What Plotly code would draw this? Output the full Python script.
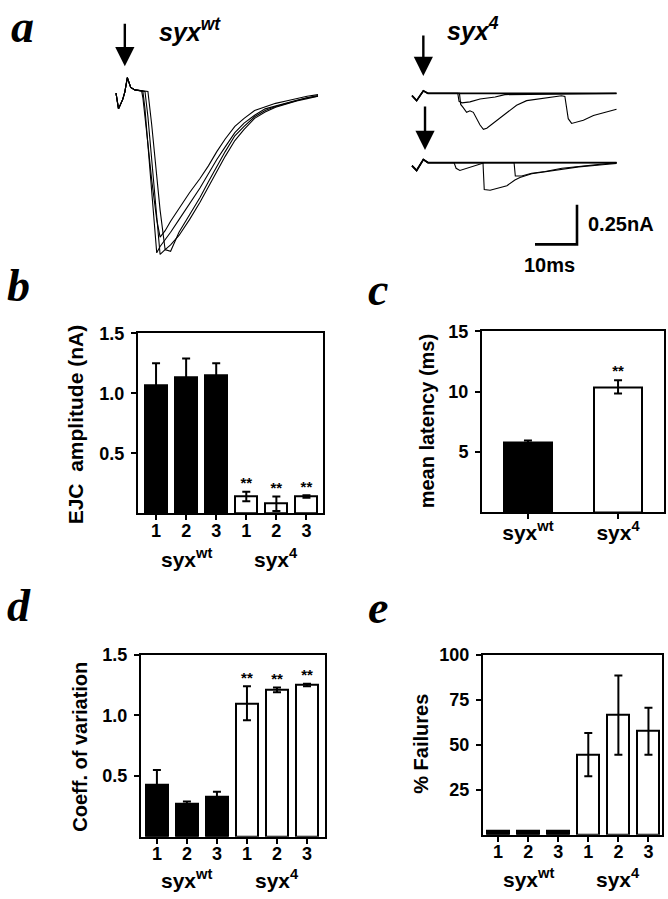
import plotly.graph_objects as go

W, H = 668, 899
SANS = "Liberation Sans, Arial, sans-serif"
SERIF = "Liberation Serif, Times New Roman, serif"

# ---------------- data ----------------
# panel a, syx-wt evoked currents (time in ms, current in nA)
WT_T = [0, 0.6, 1.6, 2.1, 2.7, 3.5, 4.5, 6.1, 6.4, 6.9, 7.6, 8.5, 9.7, 10.5, 11.7, 13,
        15, 17.5, 20, 22, 24, 26, 28.3, 30.5, 33, 35.5, 38, 40.5, 43, 45.5, 48.1]
WT_TRACE_1 = [0, -0.10, -0.04, 0.006, 0.098, 0.036, 0.02, 0.014, -0.03, -0.14, -0.32, -0.55, -0.80,
              -0.91, -0.87, -0.81, -0.73, -0.63, -0.54, -0.46, -0.37, -0.29, -0.21, -0.16, -0.11,
              -0.085, -0.065, -0.05, -0.035, -0.02, -0.01]
WT_TRACE_2 = [0, -0.10, -0.04, 0.006, 0.098, 0.036, 0.02, 0.014, 0.012, -0.10, -0.33, -0.63, -1.01,
              -0.97, -0.93, -0.88, -0.80, -0.70, -0.60, -0.51, -0.42, -0.34, -0.25, -0.19, -0.14,
              -0.10, -0.08, -0.06, -0.045, -0.03, -0.015]
WT_TRACE_3 = [0, -0.10, -0.04, 0.006, 0.098, 0.036, 0.02, 0.014, 0.012, 0.01, -0.15, -0.42, -0.80,
              -1.02, -0.99, -1.00, -0.88, -0.77, -0.66, -0.56, -0.46, -0.37, -0.27, -0.21, -0.15,
              -0.11, -0.085, -0.065, -0.05, -0.03, -0.02]
WT_TRACE_4 = [0, -0.10, -0.04, 0.006, 0.098, 0.036, 0.02, 0.014, 0.012, 0.011, 0.01, -0.20, -0.52,
              -0.74, -0.99, -0.96, -0.90, -0.80, -0.69, -0.59, -0.49, -0.40, -0.30, -0.23, -0.16,
              -0.12, -0.09, -0.07, -0.05, -0.035, -0.02]

# panel a, syx-4 currents, upper set
S4A_FAIL_T = [0, 1.1, 2.7, 3.8, 48.7]
S4A_FAIL_I = [-0.015, -0.046, 0.016, 0, 0]
S4A_R1_T = [0, 1.1, 2.7, 3.8, 10.9, 11.2, 11.9, 13.8, 16.2, 19.8, 22.1, 48.7]
S4A_R1_I = [-0.015, -0.046, 0.016, 0, 0, -0.05, -0.06, -0.054, -0.036, -0.023, -0.008, 0]
S4A_R2_T = [0, 1.1, 2.7, 3.8, 11.3, 11.6, 12.2, 13.0, 13.8, 14.6, 16.2, 17.0, 17.8, 19.8, 22.1,
            24.9, 27.3, 31.2, 35.6, 36.4, 37.2, 38.0, 39.2, 40.8, 43.2, 46.4, 48.7]
S4A_R2_I = [-0.015, -0.046, 0.016, 0, 0, -0.07, -0.09, -0.12, -0.11, -0.12, -0.20, -0.227, -0.22,
            -0.18, -0.13, -0.075, -0.046, -0.03, -0.015, -0.02, -0.16, -0.19, -0.18, -0.17, -0.14,
            -0.115, -0.10]

# panel a, syx-4 currents, lower set
S4B_FAIL_T = [0, 1.1, 2.7, 3.8, 48.7]
S4B_FAIL_I = [-0.02, -0.05, 0.02, 0, 0]
S4B_R1_T = [0, 1.1, 2.7, 3.8, 10.0, 10.5, 11.4, 12.6, 13.8, 16.2, 17.4, 48.7]
S4B_R1_I = [-0.02, -0.05, 0.02, 0, 0, -0.036, -0.05, -0.04, -0.03, -0.01, 0, 0]
S4B_R2_T = [0, 1.1, 2.7, 3.8, 16.9, 17.2, 18.6, 20.2, 22.6, 24.5, 25.7, 28.5, 31.7, 35.7, 39.7, 46.0, 48.7]
S4B_R2_I = [-0.02, -0.05, 0.02, 0, 0, -0.17, -0.175, -0.165, -0.146, -0.11, -0.094, -0.07, -0.058,
            -0.04, -0.027, -0.012, -0.005]
S4B_R3_T = [0, 1.1, 2.7, 3.8, 24.3, 24.6, 26.1, 28.5, 31.7, 35.7, 39.7, 46.0, 48.7]
S4B_R3_I = [-0.02, -0.05, 0.02, 0, 0, -0.085, -0.085, -0.067, -0.056, -0.036, -0.025, -0.01, 0]

SCALE_MS = 10
SCALE_NA = 0.25

# panels b-e
POS_LABELS = ["1", "2", "3", "1", "2", "3"]
GROUPS = ["syx<sup>wt</sup>", "syx<sup>4</sup>"]
EJC_MEAN = [1.07, 1.13, 1.15, 0.14, 0.08, 0.14]
EJC_ERR = [0.18, 0.16, 0.10, 0.04, 0.06, 0.01]
LAT_MEAN = [5.8, 10.4]
LAT_ERR = [0.15, 0.55]
CV_MEAN = [0.43, 0.27, 0.33, 1.10, 1.21, 1.25]
CV_ERR = [0.12, 0.02, 0.04, 0.14, 0.02, 0.01]
FAIL_MEAN = [2, 2, 2, 44.5, 66.5, 57.5]
FAIL_ERR = [0, 0, 0, 12, 22, 13]
SIG6 = ["", "", "", "**", "**", "**"]
SIG2 = ["", "**"]
SIG_NONE = ["", "", "", "", "", ""]

# ---------------- layout helpers ----------------
PX_PER_MS = 4.2
PX_PER_NA = 160.0


def xd(l, r):
    return [l / W, r / W]


def yd(top, bottom):
    return [1 - bottom / H, 1 - top / H]


def trace_axes(l, r, top, bottom, x0, y0):
    xa = dict(domain=xd(l, r), range=[(l - x0) / PX_PER_MS, (r - x0) / PX_PER_MS], visible=False)
    ya = dict(domain=yd(top, bottom), range=[(y0 - bottom) / PX_PER_NA, (y0 - top) / PX_PER_NA], visible=False)
    return xa, ya


TICKFONT = dict(family=SANS, size=18, color="black", weight="bold")
AX = dict(showline=True, linewidth=2, linecolor="black", mirror=True, ticks="outside",
          ticklen=5, tickwidth=2, tickcolor="black", tickfont=TICKFONT,
          showgrid=False, zeroline=False)

fig = go.Figure()

LINE = dict(color="black", width=1.1)

for tr in [WT_TRACE_1, WT_TRACE_2, WT_TRACE_3, WT_TRACE_4]:
    fig.add_trace(go.Scatter(x=WT_T, y=tr, mode="lines", line=LINE, xaxis="x", yaxis="y"))

fig.add_trace(go.Scatter(x=S4A_FAIL_T, y=S4A_FAIL_I, mode="lines", line=dict(color="black", width=1.8),
                         xaxis="x2", yaxis="y2"))
for t, i in [(S4A_R1_T, S4A_R1_I), (S4A_R2_T, S4A_R2_I)]:
    fig.add_trace(go.Scatter(x=t, y=i, mode="lines", line=LINE, xaxis="x2", yaxis="y2"))

fig.add_trace(go.Scatter(x=S4B_FAIL_T, y=S4B_FAIL_I, mode="lines", line=dict(color="black", width=1.8),
                         xaxis="x3", yaxis="y3"))
for t, i in [(S4B_R1_T, S4B_R1_I), (S4B_R2_T, S4B_R2_I), (S4B_R3_T, S4B_R3_I)]:
    fig.add_trace(go.Scatter(x=t, y=i, mode="lines", line=LINE, xaxis="x3", yaxis="y3"))

# scale bar
fig.add_trace(go.Scatter(x=[-SCALE_MS, 0, 0], y=[0, 0, SCALE_NA], mode="lines",
                         line=dict(color="black", width=2.6), xaxis="x4", yaxis="y4"))


def bar_panel(xa, ya, means, errs, sig, width, colors):
    fig.add_trace(go.Bar(x=list(range(len(means))), y=means, width=width,
                         marker=dict(color=colors, line=dict(color="black", width=2)),
                         error_y=dict(type="data", array=errs, visible=True, color="black",
                                      thickness=2, width=4),
                         xaxis=xa, yaxis=ya))
    fig.add_trace(go.Scatter(x=list(range(len(means))), y=[m + e for m, e in zip(means, errs)],
                             mode="text", text=sig, textposition="top center",
                             textfont=dict(family=SANS, size=15, color="black", weight="bold"),
                             xaxis=xa, yaxis=ya))


COL6 = ["black"] * 3 + ["white"] * 3
bar_panel("x5", "y5", EJC_MEAN, EJC_ERR, SIG6, 0.73, COL6)
bar_panel("x6", "y6", LAT_MEAN, LAT_ERR, SIG2, 0.53, ["black", "white"])
bar_panel("x7", "y7", CV_MEAN, CV_ERR, SIG6, 0.73, COL6)
bar_panel("x8", "y8", FAIL_MEAN, FAIL_ERR, SIG_NONE, 0.73, COL6)

xa1, ya1 = trace_axes(100, 330, 50, 260, 116, 84)
xa2, ya2 = trace_axes(400, 630, 60, 125, 412, 84.3)
xa3, ya3 = trace_axes(400, 630, 130, 195, 412, 154.3)
xa4, ya4 = trace_axes(520, 590, 190, 245, 577, 237)

XSTAND = -5
layout = dict(
    width=W, height=H, margin=dict(l=0, r=0, t=0, b=0),
    paper_bgcolor="white", plot_bgcolor="white", showlegend=False,
    bargap=0,
    xaxis=xa1, yaxis=ya1, xaxis2=xa2, yaxis2=ya2, xaxis3=xa3, yaxis3=ya3,
    xaxis4=xa4, yaxis4=ya4,
    xaxis5=dict(AX, domain=xd(138, 323), range=[-0.6, 5.55], tickvals=list(range(6)),
                ticktext=POS_LABELS, anchor="y5", ticklabelstandoff=XSTAND),
    yaxis5=dict(AX, domain=yd(327, 509), range=[0, 1.5], tickvals=[0.5, 1.0, 1.5],
                ticktext=["0.5", "1.0", "1.5"], anchor="x5", ticklabelstandoff=3),
    xaxis6=dict(AX, domain=xd(482, 664), range=[-0.51, 1.51], tickvals=[0, 1],
                ticktext=GROUPS, anchor="y6", ticklabelstandoff=XSTAND,
                tickfont=dict(family=SANS, size=21, color="black", weight="bold")),
    yaxis6=dict(AX, domain=yd(325, 508), range=[0, 15], tickvals=[5, 10, 15],
                ticktext=["5", "10", "15"], anchor="x6", ticklabelstandoff=3),
    xaxis7=dict(AX, domain=xd(141, 325), range=[-0.53, 5.6], tickvals=list(range(6)),
                ticktext=POS_LABELS, anchor="y7", ticklabelstandoff=XSTAND),
    yaxis7=dict(AX, domain=yd(652, 836), range=[0, 1.5], tickvals=[0.5, 1.0, 1.5],
                ticktext=["0.5", "1.0", "1.5"], anchor="x7", ticklabelstandoff=3),
    xaxis8=dict(AX, domain=xd(483, 662), range=[-0.5, 5.45], tickvals=list(range(6)),
                ticktext=POS_LABELS, anchor="y8", ticklabelstandoff=XSTAND),
    yaxis8=dict(AX, domain=yd(652, 834), range=[0, 100], tickvals=[25, 50, 75, 100],
                ticktext=["25", "50", "75", "100"], anchor="x8", ticklabelstandoff=3),
)
fig.update_layout(**layout)

ann = []
LETTER = dict(family=SERIF, size=46, color="black", weight="bold", style="italic")
for txt, x, y in [("a", 22, 17), ("b", 18, 279), ("c", 378, 283), ("d", 19, 602), ("e", 378, 604)]:
    ann.append(dict(text=txt, xref="paper", yref="paper", x=x / W, y=1 - y / H, showarrow=False,
                    xanchor="center", yanchor="middle", font=LETTER))

TITLE = dict(family=SANS, size=25, color="black", weight="bold", style="italic")
ann.append(dict(text="syx<sup>wt</sup>", xref="paper", yref="paper", x=190 / W, y=1 - 20 / H,
                xanchor="center", yanchor="middle", showarrow=False, font=TITLE))
ann.append(dict(text="syx<sup>4</sup>", xref="paper", yref="paper", x=473 / W, y=1 - 19 / H,
                xanchor="center", yanchor="middle", showarrow=False, font=TITLE))

LBL = dict(family=SANS, size=20, color="black", weight="bold")
ann.append(dict(text="0.25nA", xref="paper", yref="paper", x=586 / W, y=1 - 216 / H,
                xanchor="left", yanchor="middle", showarrow=False, font=LBL))
ann.append(dict(text="10ms", xref="paper", yref="paper", x=549 / W, y=1 - 258 / H,
                xanchor="center", yanchor="middle", showarrow=False, font=LBL))

# stimulus arrows
ARW = dict(showarrow=True, arrowhead=2, arrowsize=1.6, arrowwidth=2.4, arrowcolor="black", text="", ax=0)
ann.append(dict(ARW, xref="x", yref="y", x=2.1, y=0.17, ay=-44))
ann.append(dict(ARW, xref="x2", yref="y2", x=2.7, y=0.11, ay=-42))
ann.append(dict(ARW, xref="x3", yref="y3", x=3.1, y=0.08, ay=-45))

# y-axis titles
YT = dict(family=SANS, size=20, color="black", weight="bold")
for txt, x, y, sz in [("EJC  amplitude (nA)", 75, 419, 21), ("mean latency (ms)", 427, 416, 20),
                      ("Coeff. of variation", 80, 745, 20), ("% Failures", 421, 742, 20)]:
    ann.append(dict(text=txt, xref="paper", yref="paper", x=x / W, y=1 - y / H, textangle=-90,
                    xanchor="center", yanchor="middle", showarrow=False, font=dict(YT, size=sz)))

# group labels under the numbered bars
GL = dict(family=SANS, size=21, color="black", weight="bold")
for xa, yy in [("x5", 554), ("x7", 879), ("x8", 878)]:
    for k, g in enumerate(GROUPS):
        ann.append(dict(text=g, xref=xa, yref="paper", x=1 + 3 * k, y=1 - yy / H,
                        xanchor="center", yanchor="middle", showarrow=False, font=GL))

fig.update_layout(annotations=ann)
fig.write_html("out.html", post_script="document.body.style.margin='0';",
               config={"displayModeBar": False})
